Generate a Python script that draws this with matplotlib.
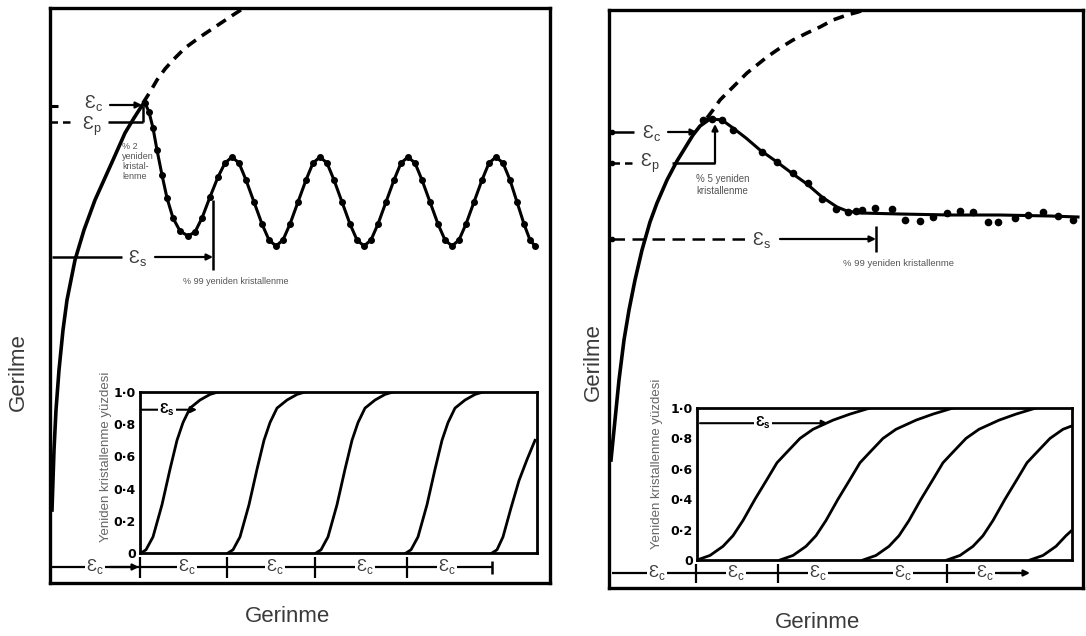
import matplotlib
matplotlib.use('Agg')
import matplotlib.pyplot as plt

plt.rcParams['font.family'] = ['Liberation Sans', 'DejaVu Sans']

W, H = 1086, 636

# ---------------- data (pixel-like units) ----------------
# Left panel: flow curve (solid), extrapolated work-hardening (dashed), oscillating (dotted)
L_solid_x = [52, 54, 56, 59, 63, 67, 75, 84, 95, 104, 113, 125, 134, 143]
L_solid_y = [510, 450, 410, 370, 330, 300, 260, 230, 200, 180, 160, 133, 118, 104]
L_dash_x = [143, 150, 157, 165, 173, 185, 200, 215, 233, 247]
L_dash_y = [103, 92, 80, 69, 60, 48, 37, 27, 15, 6]
L_osc_x = [145, 149, 153, 157, 162, 167, 173, 180, 188,
           195, 202, 210, 218, 225, 232,
           239, 246, 254, 262, 269, 276,
           283, 290, 298, 306, 313, 320,
           327, 334, 342, 350, 357, 364,
           371, 378, 386, 394, 401, 408,
           415, 422, 430, 438, 445, 452,
           459, 466, 474, 482, 489, 496,
           503, 510, 517, 524, 530, 535]
L_osc_y = [103, 112, 128, 150, 175, 198, 218, 231, 236,
           232, 218, 197, 177, 163, 157,
           163, 180, 202, 224, 240, 246,
           240, 224, 202, 180, 163, 157,
           163, 180, 202, 224, 240, 246,
           240, 224, 202, 180, 163, 157,
           163, 180, 202, 224, 240, 246,
           240, 224, 202, 180, 163, 157,
           163, 180, 202, 224, 240, 246]

# Left inset: recrystallised fraction curves
L_frac = [0, 0.02, 0.1, 0.3, 0.52, 0.7, 0.81, 0.9, 0.95, 0.985, 1.0]
L_c1 = [141, 146, 153, 162, 170, 177, 183, 190, 200, 210, 218]
L_c2 = [228, 233, 240, 249, 257, 264, 270, 277, 287, 297, 305]
L_c3 = [316, 321, 328, 337, 345, 352, 358, 365, 375, 385, 393]
L_c4 = [406, 411, 418, 427, 435, 442, 448, 455, 465, 475, 483]
L_c5_x = [492, 497, 503, 511, 519, 527, 535]
L_c5_f = [0, 0.02, 0.1, 0.28, 0.45, 0.58, 0.7]

# Right panel
R_solid_x = [611, 614, 619, 624, 629, 635, 642, 650, 657, 667, 677, 685, 693, 700, 707]
R_solid_y = [460, 430, 380, 340, 310, 280, 250, 222, 203, 180, 161, 148, 135, 126, 121]
R_dash_x = [707, 713, 720, 727, 737, 747, 757, 767, 780, 793, 807, 820, 833, 847, 858, 870]
R_dash_y = [118, 110, 100, 93, 83, 73, 65, 57, 48, 40, 33, 27, 20, 15, 12, 8]
R_flow_x = [703, 712, 722, 733, 746, 760, 777, 793, 807, 822, 837, 847, 860, 900, 950, 1000, 1050, 1078]
R_flow_y = [120, 119, 120, 128, 138, 150, 162, 174, 184, 197, 207, 211, 213, 214, 215, 215, 216, 217]
R_dots_x = [703, 712, 722, 733, 762, 777, 793, 808, 822, 836, 848, 856, 862, 875, 892, 905,
            920, 933, 947, 960, 973, 988, 998, 1015, 1028, 1043, 1058, 1073]
R_dots_y = [120, 119, 120, 130, 152, 162, 173, 183, 199, 209, 212, 211, 210, 208, 209, 220,
            221, 217, 213, 211, 212, 222, 222, 218, 215, 212, 216, 220]

# Right inset
R_frac = [0, 0.03, 0.09, 0.16, 0.26, 0.4, 0.53, 0.64, 0.71, 0.8, 0.86, 0.92, 0.96, 1.0]
R_c1 = [697, 710, 723, 733, 743, 755, 767, 777, 787, 800, 813, 833, 850, 870]
R_c2 = [780, 793, 806, 816, 826, 838, 850, 860, 870, 883, 896, 916, 933, 953]
R_c3 = [863, 876, 889, 899, 909, 921, 933, 943, 953, 966, 979, 999, 1016, 1036]
R_c4_x = [947, 960, 973, 983, 993, 1005, 1017, 1027, 1037, 1050, 1063, 1071]
R_c4_f = [0, 0.03, 0.09, 0.16, 0.26, 0.4, 0.53, 0.64, 0.71, 0.8, 0.86, 0.88]
R_c5_x = [1030, 1043, 1056, 1066, 1071]
R_c5_f = [0, 0.03, 0.09, 0.16, 0.19]

frac_ticks = [0, 0.2, 0.4, 0.6, 0.8, 1.0]
frac_labels = ['0', '0·2', '0·4', '0·6', '0·8', '1·0']

# ---------------- drawing ----------------
fig = plt.figure(figsize=(10.86, 6.36), dpi=100)

def px_axes(x0, y0, x1, y1):
    return fig.add_axes([x0 / W, 1 - y1 / H, (x1 - x0) / W, (y1 - y0) / H])

def frame(ax, lw):
    ax.set_xticks([]); ax.set_yticks([])
    for s in ax.spines.values():
        s.set_linewidth(lw); s.set_color('black')

GRAY = '#3a3a3a'
SMALL = '#555555'

def eps(ax, x, y, sub, size=13, color=GRAY, box=False, va='baseline'):
    kw = dict(ha='center', va=va, fontsize=size, color=color)
    if box:
        kw['bbox'] = dict(facecolor='white', edgecolor='none', pad=1.0)
    ax.text(x, y, 'Ɛ' + r'$_{\mathregular{' + sub + '}}$', **kw)

def arrow(ax, x0, y0, x1, y1, lw=1.6, ls='-'):
    ax.annotate('', xy=(x1, y1), xytext=(x0, y0),
                arrowprops=dict(arrowstyle='-|>', color='black', lw=lw, ls=ls,
                                mutation_scale=9, shrinkA=0, shrinkB=0))

def seg(ax, xs, ys, lw=1.6, ls='-'):
    ax.plot(xs, ys, color='black', lw=lw, ls=ls, solid_capstyle='butt')

# ===== Left main panel =====
axL = px_axes(50, 8, 550, 583)
axL.set_xlim(50, 550); axL.set_ylim(583, 8)
frame(axL, 2.4)
axL.plot(L_solid_x, L_solid_y, color='black', lw=2.6)
axL.plot(L_dash_x, L_dash_y, color='black', lw=2.6, ls=(0, (3, 2)))
axL.plot(L_osc_x, L_osc_y, color='black', lw=2.2, marker='o', ms=4)

# eps_c / eps_p markers
seg(axL, [50, 58], [106, 106], lw=2.2)
eps(axL, 94, 108, 'c')
arrow(axL, 110, 105, 142, 105)
seg(axL, [50, 72], [122, 122], lw=1.8, ls=(0, (3, 2)))
eps(axL, 92, 130, 'p')
seg(axL, [108, 143], [122, 122], lw=1.8)
seg(axL, [143, 143], [122, 106], lw=1.8)
axL.text(122, 142, '% 2\nyeniden\nkristal-\nlenme', fontsize=6.5, color=SMALL,
         ha='left', va='top', linespacing=1.15)
# eps_s
seg(axL, [52, 122], [257, 257], lw=1.8)
eps(axL, 137, 263, 's')
arrow(axL, 155, 257, 213, 257)
seg(axL, [213, 213], [200, 270], lw=1.8)
axL.text(183, 281, '% 99 yeniden kristallenme', fontsize=6.5, color=SMALL, ha='left', va='center')
# bottom eps_c row
seg(axL, [52, 492], [567, 567], lw=1.6)
for xt in [140, 227, 315, 407]:
    seg(axL, [xt, xt], [557, 578], lw=1.6)
seg(axL, [492, 492], [561, 574], lw=1.8)
arrow(axL, 110, 567, 139, 567)
for xt in [95, 187, 275, 365, 447]:
    eps(axL, xt, 567, 'c', size=12, box=True, va='center')

# ===== Left inset =====
axLi = px_axes(140, 392, 537, 553)
axLi.set_xlim(140, 537); axLi.set_ylim(0, 1)
axLi.set_facecolor('white')
for s in axLi.spines.values():
    s.set_linewidth(2.0)
axLi.set_xticks([])
axLi.set_yticks(frac_ticks)
axLi.set_yticklabels(frac_labels, fontsize=9, fontweight='bold', family='DejaVu Sans')
axLi.tick_params(axis='y', length=0, pad=3)
for cx in [L_c1, L_c2, L_c3, L_c4]:
    axLi.plot(cx, L_frac, color='black', lw=2.0)
axLi.plot(L_c5_x, L_c5_f, color='black', lw=2.0)
axLi.set_ylabel('Yeniden kristallenme yüzdesi', fontsize=9.5, color='#666666')
axLi.yaxis.set_label_coords(-0.07, 0.6)
arrow(axLi, 142, 0.89, 197, 0.89, lw=1.5)
axLi.text(167, 0.89, 'Ɛ' + r'$_{\mathregular{s}}$', ha='center', va='center', fontsize=10,
          fontweight='bold', bbox=dict(facecolor='white', edgecolor='none', pad=0.5))

# ===== Right main panel =====
axR = px_axes(609, 10, 1083, 588)
axR.set_xlim(609, 1083); axR.set_ylim(588, 10)
frame(axR, 2.4)
axR.plot(R_solid_x, R_solid_y, color='black', lw=2.6)
axR.plot(R_dash_x, R_dash_y, color='black', lw=2.6, ls=(0, (3, 2)))
axR.plot(R_flow_x, R_flow_y, color='black', lw=2.2)
axR.plot(R_dots_x, R_dots_y, 'o', color='black', ms=4.5)

axR.plot([612], [132], 'o', color='black', ms=3)
seg(axR, [612, 634], [132, 132], lw=1.8)
eps(axR, 652, 138, 'c')
arrow(axR, 668, 132, 697, 132)
axR.plot([612], [163], 'o', color='black', ms=3)
seg(axR, [612, 632], [163, 163], lw=1.8, ls=(0, (3, 2)))
eps(axR, 650, 167, 'p')
seg(axR, [672, 715], [163, 163], lw=1.8)
arrow(axR, 715, 163, 715, 124)
axR.text(696, 185, '% 5 yeniden\nkristallenme', fontsize=7, color=SMALL, ha='left', va='center',
         linespacing=1.15)
axR.plot([612], [239], 'o', color='black', ms=3)
seg(axR, [612, 745], [239, 239], lw=1.8, ls=(0, (5, 3)))
eps(axR, 761, 245, 's')
arrow(axR, 780, 239, 876, 239)
seg(axR, [876, 876], [226, 252], lw=1.8)
axR.text(843, 263, '% 99 yeniden kristallenme', fontsize=6.8, color=SMALL, ha='left', va='center')
# bottom row
seg(axR, [612, 1020], [573, 573], lw=1.6)
arrow(axR, 1000, 573, 1030, 573)
for xt in [696, 778, 947]:
    seg(axR, [xt, xt], [564, 583], lw=1.6)
for xt in [657, 736, 818, 903, 985]:
    eps(axR, xt, 573, 'c', size=12, box=True, va='center')

# ===== Right inset =====
axRi = px_axes(697, 408, 1072, 560)
axRi.set_xlim(697, 1072); axRi.set_ylim(0, 1)
axRi.set_facecolor('white')
for s in axRi.spines.values():
    s.set_linewidth(2.0)
axRi.set_xticks([])
axRi.set_yticks(frac_ticks)
axRi.set_yticklabels(frac_labels, fontsize=9, fontweight='bold', family='DejaVu Sans')
axRi.tick_params(axis='y', length=0, pad=3)
for cx in [R_c1, R_c2, R_c3]:
    axRi.plot(cx, R_frac, color='black', lw=2.0)
axRi.plot(R_c4_x, R_c4_f, color='black', lw=2.0)
axRi.plot(R_c5_x, R_c5_f, color='black', lw=2.0)
axRi.set_ylabel('Yeniden kristallenme yüzdesi', fontsize=9.5, color='#666666')
axRi.yaxis.set_label_coords(-0.09, 0.63)
arrow(axRi, 700, 0.9, 828, 0.9, lw=1.5)
axRi.text(763, 0.9, 'Ɛ' + r'$_{\mathregular{s}}$', ha='center', va='center', fontsize=10,
          fontweight='bold', bbox=dict(facecolor='white', edgecolor='none', pad=0.5))

# ===== axis titles =====
fig.text(18 / W, 1 - 372 / H, 'Gerilme', rotation=90, ha='center', va='center',
         fontsize=16, color=GRAY)
fig.text(593 / W, 1 - 362 / H, 'Gerilme', rotation=90, ha='center', va='center',
         fontsize=16, color=GRAY)
fig.text(288 / W, 1 - 617 / H, 'Gerinme', ha='center', va='center', fontsize=16, color=GRAY)
fig.text(818 / W, 1 - 622 / H, 'Gerinme', ha='center', va='center', fontsize=16, color=GRAY)

fig.savefig('out.png', dpi=100)
